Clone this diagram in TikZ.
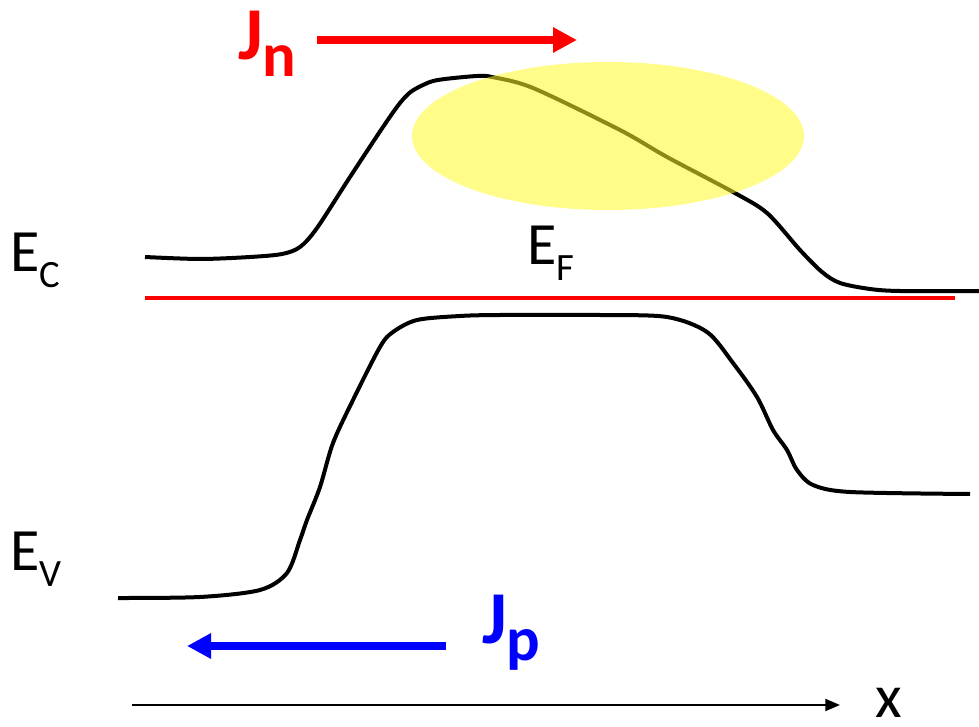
\documentclass[tikz,border=0pt]{standalone}
\usepackage{fontspec}
\setmainfont{Carlito}
\usetikzlibrary{arrows.meta,shapes.geometric}
\definecolor{jnred}{RGB}{255,0,0}
\definecolor{jpblue}{RGB}{0,0,255}
\definecolor{hilite}{RGB}{255,250,40}
\tikzset{
  band/.style={line width=3pt, black, smooth, tension=0.5},
  lbl/.style={anchor=base west, inner sep=0pt, font=\fontsize{45}{45}\selectfont},
  jlbl/.style={anchor=base west, inner sep=0pt, font=\bfseries\fontsize{56}{56}\selectfont},
  fatarrow/.style={line width=6pt, -{Triangle[length=18pt,width=18pt]}},
}
\newcommand{\subE}[1]{\raisebox{-12pt}{\fontsize{29}{29}\selectfont #1}}
\newcommand{\subJ}[1]{\raisebox{-12.75pt}{\fontsize{47}{47}\selectfont #1}}
\begin{document}
\begin{tikzpicture}[x=0.75pt,y=-0.75pt]
\useasboundingbox (0,0) rectangle (979,727);
% Fermi level
\coordinate (efl) at (145,298);
\coordinate (efr) at (955,298);
\draw[jnred, line width=2.3pt] (efl) -- (efr);
% conduction band
\draw[band] plot coordinates {(145,257) (200,259) (250,257) (282,254) (300,247) (317,228) (350,177) (383,127) (400,103) (412,91) (430,82) (445,79) (477,76) (492,77) (533,88) (620,130) (667,157) (733,192) (767,213) (800,250) (822,272) (840,283) (870,289) (900,291) (979,291)};
% valence band
\draw[band] plot coordinates {(118,598) (200,597) (260,590) (287,573) (300,540) (307,520) (320,487) (333,443) (353,400) (380,347) (393,332) (417,320) (460,316) (500,315) (600,315) (667,317) (707,332) (733,363) (757,397) (773,430) (787,450) (797,470) (813,485) (850,492) (970,494)};
% highlight ellipse
\node[draw=none, fill=hilite, fill opacity=0.55, ellipse, minimum width=294pt, minimum height=111pt, inner sep=0pt] (spot) at (608,136) {};
% labels
\node[lbl] (ec) at (10,272) {E\subE{C}};
\node[lbl] (ef) at (527,265) {E\subE{F}};
\node[lbl] (ev) at (10,570) {E\subE{V}};
\node[jlbl, text=jnred] (jn) at (238,60) {J\subJ{n}};
\node[jlbl, text=jpblue] (jp) at (482,643) {J\subJ{p}};
\node[lbl, font=\fontsize{46}{46}\selectfont] (xl) at (875,717) {x};
% current arrows
\coordinate (jns) at (317,40);
\coordinate (jne) at (577,40);
\draw[fatarrow, jnred] (jns) -- (jne);
\coordinate (jps) at (446,646);
\coordinate (jpe) at (187,646);
\draw[fatarrow, jpblue] (jps) -- (jpe);
% x axis
\coordinate (ax0) at (132,705);
\coordinate (ax1) at (840,705);
\draw[line width=1.5pt, -{Triangle[length=11pt,width=9pt]}] (ax0) -- (ax1);
\end{tikzpicture}
\end{document}
